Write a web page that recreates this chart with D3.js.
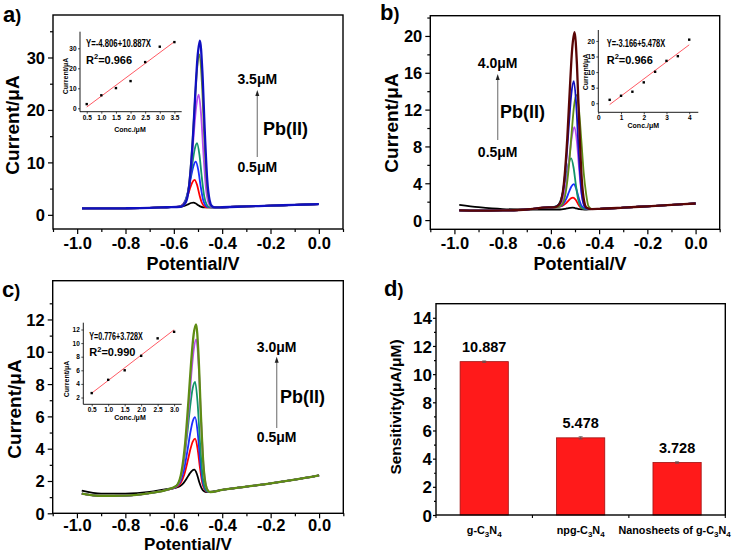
<!DOCTYPE html>
<html><head><meta charset="utf-8">
<script src="https://cdn.jsdelivr.net/npm/d3@7"></script>
<style>
body{margin:0;background:#fff;}
svg{display:block;}
text{font-family:"Liberation Sans",Arial,sans-serif;}
</style></head><body>
<svg id="chart" width="734" height="553"></svg>
<script>
// ---------------- DATA ----------------
const potentialTicks = [-1.0, -0.8, -0.6, -0.4, -0.2, 0.0];
const potentialTickLabels = ["-1.0", "-0.8", "-0.6", "-0.4", "-0.2", "0.0"];
const potentialMinor = [-1.1, -0.9, -0.7, -0.5, -0.3, -0.1, 0.1];
// potential offsets (V) of the sampled points around each stripping peak
const peakOffsets = [-0.08, -0.06, -0.045, -0.03, -0.02, -0.01, 0, 0.01, 0.02, 0.03, 0.04, 0.05];

// Panel a (0.5 ... 3.5 uM)
const aColors = ["#000000", "#ff0000", "#1a2cff", "#12946b", "#b84cf0", "#6b8e23", "#1010c0"];
const aCenters = [-0.519, -0.514, -0.509, -0.504, -0.497, -0.494, -0.492];
const aPeakVals = [
  [1.50, 1.52, 1.60, 1.83, 2.05, 2.26, 2.34, 2.17, 1.83, 1.56, 1.44, 1.41],
  [1.51, 1.62, 2.14, 3.54, 4.91, 6.15, 6.67, 5.72, 3.82, 2.30, 1.63, 1.44],
  [1.51, 1.71, 2.56, 4.92, 7.21, 9.29, 10.15, 8.58, 5.43, 2.89, 1.79, 1.47],
  [1.52, 1.79, 2.99, 6.30, 9.52, 12.44, 13.65, 11.45, 7.04, 3.48, 1.94, 1.49],
  [1.53, 2.01, 4.13, 9.95, 15.62, 20.76, 22.9, 18.95, 11.24, 5.04, 2.34, 1.56],
  [1.54, 2.20, 5.08, 12.99, 20.71, 27.69, 30.6, 25.26, 14.79, 6.35, 2.68, 1.62],
  [1.54, 2.26, 5.40, 14.02, 22.42, 30.03, 33.2, 27.39, 15.98, 6.79, 2.79, 1.64]
];
const aBaseLeft = [[-0.98, 1.25], [-0.9, 1.22], [-0.8, 1.25], [-0.7, 1.33], [-0.63, 1.45]];
const aBaseRight = [[-0.43, 1.42], [-0.4, 1.45], [-0.3, 1.6], [-0.2, 1.75], [-0.1, 1.9], [0, 2.05]];
const aYTicks = [0, 10, 20, 30];
const aYMinor = [5, 15, 25, 35];
const aInsetConc = [0.5, 1.0, 1.5, 2.0, 2.5, 3.0, 3.5];
const aInsetCurrent = [2.1, 6.5, 10.1, 13.6, 23.1, 30.8, 33.1];
const aFit = [-4.806, 10.887];
const aEquation = "Y=-4.806+10.887X";
const aR2 = "=0.966";
const aInsetXTicks = [0.5, 1.0, 1.5, 2.0, 2.5, 3.0, 3.5];
const aInsetXLabels = ["0.5", "1.0", "1.5", "2.0", "2.5", "3.0", "3.5"];
const aInsetYTicks = [0, 10, 20, 30];
const aConcLabels = ["3.5\u03bcM", "0.5\u03bcM"];

// Panel b (0.5 ... 4.0 uM)
const bColors = ["#000000", "#ff0000", "#1a2cff", "#12946b", "#b84cf0", "#5f8c14", "#1010c0", "#5a0606"];
const bCenters = [-0.51, -0.508, -0.505, -0.516, -0.502, -0.494, -0.505, -0.502];
const bPeakVals = [
  [1.15, 1.15, 1.17, 1.23, 1.28, 1.33, 1.35, 1.31, 1.24, 1.18, 1.16, 1.15],
  [1.40, 1.43, 1.53, 1.81, 2.09, 2.35, 2.45, 2.23, 1.78, 1.41, 1.26, 1.21],
  [1.40, 1.46, 1.71, 2.39, 3.05, 3.65, 3.9, 3.41, 2.44, 1.66, 1.32, 1.22],
  [1.41, 1.53, 2.05, 3.49, 4.90, 6.17, 6.7, 5.71, 3.73, 2.14, 1.44, 1.24],
  [1.41, 1.61, 2.47, 4.84, 7.14, 9.23, 10.1, 8.50, 5.29, 2.71, 1.59, 1.27],
  [1.42, 1.69, 2.90, 6.22, 9.45, 12.38, 13.6, 12.11, 8.76, 5.17, 2.87, 1.5],
  [1.42, 1.73, 3.09, 6.81, 10.44, 13.73, 15.1, 12.6, 7.59, 3.56, 1.81, 1.31],
  [1.42, 1.86, 3.74, 8.91, 13.94, 18.5, 20.4, 16.94, 10.03, 4.46, 2.04, 1.35]
];
const bBaseLeft = [[-0.98, 1.05], [-0.9, 1.02], [-0.8, 1.05], [-0.7, 1.15], [-0.63, 1.35]];
const bBaseLeftBlack = [[-0.98, 1.65], [-0.9, 1.4], [-0.8, 1.2], [-0.7, 1.15], [-0.63, 1.15]];
const bBaseRight = [[-0.43, 1.2], [-0.4, 1.22], [-0.3, 1.35], [-0.2, 1.5], [-0.1, 1.65], [0, 1.8]];
const bYTicks = [0, 4, 8, 12, 16, 20];
const bYMinor = [2, 6, 10, 14, 18, 22];
const bInsetConc = [0.5, 1.0, 1.5, 2.0, 2.5, 3.0, 3.5, 4.0];
const bInsetCurrent = [1.1, 2.4, 3.7, 6.7, 10.1, 13.6, 15.1, 20.4];
const bFit = [-3.166, 5.478];
const bEquation = "Y=-3.166+5.478X";
const bR2 = "=0.966";
const bInsetXTicks = [0, 1, 2, 3, 4];
const bInsetXLabels = ["0", "1", "2", "3", "4"];
const bInsetYTicks = [0, 5, 10, 15, 20];
const bConcLabels = ["4.0\u03bcM", "0.5\u03bcM"];

// Panel c (0.5 ... 3.0 uM)
const cColors = ["#000000", "#ff0000", "#1a2cff", "#12946b", "#b84cf0", "#5f8c14"];
const cCenters = [-0.515, -0.512, -0.512, -0.512, -0.507, -0.508];
const cPeakVals = [
  [1.57, 1.67, 1.87, 2.20, 2.44, 2.63, 2.7, 2.45, 1.94, 1.54, 1.36, 1.31],
  [1.60, 1.86, 2.39, 3.28, 3.93, 4.43, 4.62, 4.02, 2.83, 1.86, 1.45, 1.33],
  [1.62, 1.99, 2.76, 4.03, 4.97, 5.69, 5.96, 5.12, 3.44, 2.09, 1.51, 1.34],
  [1.66, 2.21, 3.36, 5.26, 6.66, 7.73, 8.14, 6.91, 4.45, 2.46, 1.60, 1.35],
  [1.71, 2.47, 4.09, 6.74, 8.70, 10.20, 10.77, 9.07, 5.66, 2.91, 1.72, 1.37],
  [1.72, 2.57, 4.34, 7.26, 9.42, 11.07, 11.7, 9.83, 6.08, 3.07, 1.76, 1.38]
];
const cBaseLeft = [[-0.98, 1.22], [-0.9, 1.08], [-0.8, 1.1], [-0.7, 1.25], [-0.63, 1.45]];
const cBaseLeftBlack = [[-0.98, 1.4], [-0.9, 1.22], [-0.8, 1.22], [-0.7, 1.32], [-0.63, 1.5]];
const cBaseRight = [[-0.45, 1.32], [-0.4, 1.45], [-0.3, 1.65], [-0.2, 1.85], [-0.1, 2.08], [0, 2.35]];
const cYTicks = [0, 2, 4, 6, 8, 10, 12];
const cYMinor = [1, 3, 5, 7, 9, 11, 13];
const cInsetConc = [0.5, 1.0, 1.5, 2.0, 2.5, 3.0];
const cInsetCurrent = [2.65, 4.6, 6.0, 8.13, 10.7, 11.66];
const cFit = [0.776, 3.728];
const cEquation = "Y=0.776+3.728X";
const cR2 = "=0.990";
const cInsetXTicks = [0.5, 1.0, 1.5, 2.0, 2.5, 3.0];
const cInsetXLabels = ["0.5", "1.0", "1.5", "2.0", "2.5", "3.0"];
const cInsetYTicks = [2, 4, 6, 8, 10, 12];
const cConcLabels = ["3.0\u03bcM", "0.5\u03bcM"];

// Panel d
const dCategories = ["g-C3N4", "npg-C3N4", "Nanosheets of g-C3N4"];
const dValues = [10.887, 5.478, 3.728];
const dErrors = [0.05, 0.08, 0.05];
const dValueLabels = ["10.887", "5.478", "3.728"];
const dYTicks = [0, 2, 4, 6, 8, 10, 12, 14];
const dYMinor = [1, 3, 5, 7, 9, 11, 13];

// ---------------- DRAWING ----------------
const svg = d3.select("#chart");
svg.append("rect").attr("width", 734).attr("height", 553).attr("fill", "#fff");

function styleAxis(sel, fs, family) {
  sel.select(".domain").remove();
  sel.selectAll(".tick line").attr("stroke", "#000").attr("stroke-width", 1.2);
  sel.selectAll(".tick text").attr("font-size", fs).attr("font-weight", "bold")
    .attr("fill", "#000").attr("font-family", family || "Liberation Sans, Arial, sans-serif");
}

function panelLabel(x, y, letter) {
  const t = svg.append("text").attr("x", x).attr("y", y).attr("font-size", 22).attr("fill", "#000");
  t.append("tspan").attr("font-weight", "bold").text(letter);
  t.append("tspan").attr("font-size", 18).attr("font-weight", "bold").text(")");
}

function drawCV(cfg) {
  const g = svg.append("g");
  const xs = d3.scaleLinear().domain([-1.1, 0.1]).range([cfg.x0, cfg.x1]);
  const ys = d3.scaleLinear().domain(cfg.yDomain).range([cfg.y1, cfg.y0]);
  const line = d3.line().x(d => xs(d[0])).y(d => ys(d[1])).curve(d3.curveMonotoneX);

  cfg.centers.forEach((c, i) => {
    const left = (cfg.baseLeftBlack && i === 0) ? cfg.baseLeftBlack : cfg.baseLeft;
    const pts = left.concat(peakOffsets.map((o, j) => [c + o, cfg.peakVals[i][j]]), cfg.baseRight);
    g.append("path").attr("d", line(pts)).attr("fill", "none")
      .attr("stroke", cfg.colors[i]).attr("stroke-width", i === cfg.colors.length - 1 ? 2.3 : 1.8)
      .attr("stroke-linejoin", "round");
  });

  // frame
  g.append("rect").attr("x", cfg.x0).attr("y", cfg.y0)
    .attr("width", cfg.x1 - cfg.x0).attr("height", cfg.y1 - cfg.y0)
    .attr("fill", "none").attr("stroke", "#000").attr("stroke-width", 1.4);

  // axes
  const bx = g.append("g").attr("transform", `translate(0,${cfg.y1})`)
    .call(d3.axisBottom(xs).tickValues(potentialTicks).tickSize(5).tickPadding(cfg.xPad)
      .tickFormat((d, i) => potentialTickLabels[i]));
  styleAxis(bx, 16.5);
  const bxm = g.append("g").attr("transform", `translate(0,${cfg.y1})`)
    .call(d3.axisBottom(xs).tickValues(potentialMinor).tickSize(3).tickFormat(""));
  styleAxis(bxm, 1);
  const ly = g.append("g").attr("transform", `translate(${cfg.x0},0)`)
    .call(d3.axisLeft(ys).tickValues(cfg.yTicks).tickSize(5).tickPadding(3).tickFormat(d3.format("d")));
  styleAxis(ly, 16.5);
  ly.selectAll(".tick text").attr("dy", "0.36em");
  const lym = g.append("g").attr("transform", `translate(${cfg.x0},0)`)
    .call(d3.axisLeft(ys).tickValues(cfg.yMinor.filter(v => v >= cfg.yDomain[0] && v <= cfg.yDomain[1])).tickSize(3).tickFormat(""));
  styleAxis(lym, 1);

  // titles
  g.append("text").attr("x", cfg.xTitle[0]).attr("y", cfg.xTitle[1]).attr("text-anchor", "middle")
    .attr("font-size", cfg.xTitleSize || 18).attr("font-weight", "bold").text("Potential/V");
  g.append("text").attr("transform", `translate(${cfg.yTitle[0]},${cfg.yTitle[1]}) rotate(-90)`)
    .attr("text-anchor", "middle").attr("dy", "0.35em")
    .attr("font-size", 19).attr("font-weight", "bold").text("Current/\u03bcA");

  // annotation: concentration arrow
  const an = cfg.anno;
  g.append("line").attr("x1", an.ax).attr("x2", an.ax).attr("y1", an.ay1).attr("y2", an.ay0 + 5)
    .attr("stroke", "#8a8a8a").attr("stroke-width", 1.3);
  g.append("path").attr("d", `M${an.ax},${an.ay0} L${an.ax - 2},${an.ay0 + 6} L${an.ax + 2},${an.ay0 + 6} Z`)
    .attr("fill", "#222");
  g.append("text").attr("x", an.ax).attr("y", an.topY).attr("text-anchor", "middle")
    .attr("font-size", 14).attr("font-weight", "bold").text(cfg.concLabels[0]);
  g.append("text").attr("x", an.ax).attr("y", an.botY).attr("text-anchor", "middle")
    .attr("font-size", 14).attr("font-weight", "bold").text(cfg.concLabels[1]);
  g.append("text").attr("x", an.pbX).attr("y", an.pbY)
    .attr("font-size", 18).attr("font-weight", "bold").text("Pb(II)");

  drawInset(cfg.inset);
}

function drawInset(ic) {
  const g = svg.append("g");
  const xs = d3.scaleLinear().domain(ic.xDomain).range([ic.x0, ic.x1]);
  const ys = d3.scaleLinear().domain(ic.yDomain).range([ic.y1, ic.y0]);
  g.append("path").attr("d", `M${ic.x0},${ic.y0} V${ic.y1} H${ic.x1}`)
    .attr("fill", "none").attr("stroke", "#000").attr("stroke-width", 0.9);
  const fam = ic.serif ? "Liberation Serif, Times New Roman, serif" : "Liberation Sans, Arial, sans-serif";
  const la = g.append("g").attr("transform", `translate(${ic.x0},0)`)
    .call(d3.axisLeft(ys).tickValues(ic.yTicks).tickSize(2).tickPadding(1.5).tickFormat(d3.format("d")));
  styleAxis(la, 6.5, fam);
  la.selectAll(".tick line").attr("stroke-width", 0.7);
  const ba = g.append("g").attr("transform", `translate(0,${ic.y1})`)
    .call(d3.axisBottom(xs).tickValues(ic.xTicks).tickSize(2).tickPadding(1.5)
      .tickFormat((d, i) => ic.xLabels[i]));
  styleAxis(ba, 6.5, fam);
  ba.selectAll(".tick line").attr("stroke-width", 0.7);

  // fit line
  const c0 = ic.conc[0], c1 = ic.conc[ic.conc.length - 1];
  g.append("line").attr("x1", xs(c0)).attr("y1", ys(ic.fit[0] + ic.fit[1] * c0))
    .attr("x2", xs(c1)).attr("y2", ys(ic.fit[0] + ic.fit[1] * c1))
    .attr("stroke", "#ff5a64").attr("stroke-width", 1);
  g.selectAll("rect.pt").data(ic.conc).join("rect").attr("class", "pt")
    .attr("x", d => xs(d) - 1.2).attr("y", (d, i) => ys(ic.current[i]) - 1.2)
    .attr("width", 2.4).attr("height", 2.4).attr("fill", "#000");

  // equation text
  g.append("text").attr("x", ic.eqX).attr("y", ic.eqY)
    .attr("font-family", "Liberation Serif, Times New Roman, serif").attr("font-weight", "bold")
    .attr("font-size", 11).attr("textLength", ic.eqW).attr("lengthAdjust", "spacingAndGlyphs")
    .text(ic.equation);
  const r = g.append("text").attr("x", ic.eqX).attr("y", ic.eqY + 16.5)
    .attr("font-family", "Liberation Serif, Times New Roman, serif").attr("font-weight", "bold")
    .attr("font-size", 11);
  r.append("tspan").text("R");
  r.append("tspan").attr("font-size", 7.5).attr("dy", -4.5).text("2");
  r.append("tspan").attr("dy", 4.5).text(ic.r2);

  g.append("text").attr("x", ic.cx).attr("y", ic.cy).attr("text-anchor", "middle")
    .attr("font-family", fam).attr("font-weight", "bold").attr("font-size", 7).text("Conc./\u03bcM");
  g.append("text").attr("transform", `translate(${ic.yx},${ic.yy}) rotate(-90)`)
    .attr("text-anchor", "middle").attr("font-family", fam).attr("font-weight", "bold")
    .attr("font-size", 7).text("Current/\u03bcA");
}

// ---- panel a ----
drawCV({
  x0: 53, x1: 343, y0: 15, y1: 229, yDomain: [-2.7, 38.1], yTicks: aYTicks, yMinor: aYMinor, xPad: 3.5,
  colors: aColors, centers: aCenters, peakVals: aPeakVals, baseLeft: aBaseLeft, baseRight: aBaseRight,
  xTitle: [193, 269.5], yTitle: [12, 125], concLabels: aConcLabels,
  anno: { ax: 257.3, ay0: 90, ay1: 157, topY: 84, botY: 171.5, pbX: 263, pbY: 134.5 },
  inset: {
    x0: 80, x1: 181.7, y0: 31.7, y1: 111.7, xDomain: [0.27, 3.75], yDomain: [-1.7, 38.3],
    xTicks: aInsetXTicks, xLabels: aInsetXLabels, yTicks: aInsetYTicks,
    conc: aInsetConc, current: aInsetCurrent, fit: aFit, equation: aEquation, r2: aR2,
    eqX: 86, eqY: 47, eqW: 65, cx: 130, cy: 132, yx: 68, yy: 76
  }
});
panelLabel(3, 22, "a");

// ---- panel b ----
drawCV({
  x0: 430.3, x1: 719.7, y0: 15.7, y1: 229.3, yDomain: [-1, 22.2], yTicks: bYTicks, yMinor: bYMinor, xPad: 2.5,
  colors: bColors, centers: bCenters, peakVals: bPeakVals, baseLeft: bBaseLeft, baseLeftBlack: bBaseLeftBlack,
  baseRight: bBaseRight,
  xTitle: [580, 269.5], yTitle: [391, 123], concLabels: bConcLabels,
  anno: { ax: 497.7, ay0: 74, ay1: 140, topY: 68, botY: 156.5, pbX: 500, pbY: 117.5 },
  inset: {
    x0: 598.3, x1: 698.3, y0: 30, y1: 112.3, xDomain: [0, 4.4], yDomain: [-2.9, 23.5],
    xTicks: bInsetXTicks, xLabels: bInsetXLabels, yTicks: bInsetYTicks,
    conc: bInsetConc, current: bInsetCurrent, fit: bFit, equation: bEquation, r2: bR2,
    eqX: 606.7, eqY: 47, eqW: 58.5, cx: 643.3, cy: 127.5, yx: 588, yy: 72
  }
});
panelLabel(380, 20, "b");

// ---- panel c ----
drawCV({
  x0: 52.7, x1: 343.3, y0: 280.7, y1: 513.3, yDomain: [0, 14.4], yTicks: cYTicks, yMinor: cYMinor, xPad: 1.2,
  colors: cColors, centers: cCenters, peakVals: cPeakVals, baseLeft: cBaseLeft, baseLeftBlack: cBaseLeftBlack,
  baseRight: cBaseRight,
  xTitle: [188, 550], xTitleSize: 17, yTitle: [14, 409], concLabels: cConcLabels,
  anno: { ax: 276.7, ay0: 356.7, ay1: 428, topY: 351.5, botY: 441.5, pbX: 280, pbY: 402.5 },
  inset: {
    x0: 83.3, x1: 181.7, y0: 322.7, y1: 404.3, xDomain: [0.245, 3.23], yDomain: [1, 13],
    xTicks: cInsetXTicks, xLabels: cInsetXLabels, yTicks: cInsetYTicks, serif: true,
    conc: cInsetConc, current: cInsetCurrent, fit: cFit, equation: cEquation, r2: cR2,
    eqX: 89.3, eqY: 339.5, eqW: 53.5, cx: 130, cy: 420, yx: 69, yy: 379
  }
});
panelLabel(2, 297, "c");

// ---- panel d ----
(function () {
  const x0 = 436, x1 = 725.3, y0 = 303.7, y1 = 515;
  const g = svg.append("g");
  const xs = d3.scaleBand().domain(dCategories).range([x0, x1]).paddingInner(0.5).paddingOuter(0.25);
  const ys = d3.scaleLinear().domain([0, 15]).range([y1, y0]);
  g.selectAll("rect.bar").data(dValues).join("rect").attr("class", "bar")
    .attr("x", (d, i) => xs(dCategories[i])).attr("y", d => ys(d))
    .attr("width", xs.bandwidth()).attr("height", d => y1 - ys(d))
    .attr("fill", "#ff1a1a").attr("stroke", "#a01010").attr("stroke-width", 0.8);
  // error bars
  dValues.forEach((v, i) => {
    const cx = xs(dCategories[i]) + xs.bandwidth() / 2;
    g.append("path").attr("d",
      `M${cx - 2},${ys(v + dErrors[i])} H${cx + 2} M${cx},${ys(v + dErrors[i])} V${ys(v - dErrors[i])} M${cx - 2},${ys(v - dErrors[i])} H${cx + 2}`)
      .attr("stroke", "#555").attr("stroke-width", 0.8).attr("fill", "none");
    g.append("text").attr("x", cx).attr("y", ys(v) - 9.5).attr("text-anchor", "middle")
      .attr("font-size", 14.5).attr("font-weight", "bold").text(dValueLabels[i]);
  });
  g.append("rect").attr("x", x0).attr("y", y0).attr("width", x1 - x0).attr("height", y1 - y0)
    .attr("fill", "none").attr("stroke", "#000").attr("stroke-width", 1.4);
  const ly = g.append("g").attr("transform", `translate(${x0},0)`)
    .call(d3.axisLeft(ys).tickValues(dYTicks).tickSize(3).tickPadding(1).tickFormat(d3.format("d")));
  styleAxis(ly, 17);
  ly.selectAll(".tick text").attr("dy", "0.36em");
  const lym = g.append("g").attr("transform", `translate(${x0},0)`)
    .call(d3.axisLeft(ys).tickValues(dYMinor).tickSize(2).tickFormat(""));
  styleAxis(lym, 1);
  // bottom ticks between categories
  const bticks = [];
  const step = xs.step();
  dCategories.forEach((c, i) => {
    const cx = xs(c) + xs.bandwidth() / 2;
    bticks.push(cx - step / 2);
    if (i === dCategories.length - 1) bticks.push(cx + step / 2);
  });
  g.selectAll("line.bt").data(bticks).join("line").attr("class", "bt")
    .attr("x1", d => d).attr("x2", d => d).attr("y1", y1).attr("y2", y1 + 3)
    .attr("stroke", "#000").attr("stroke-width", 1.1);
  // category labels with subscripts
  dCategories.forEach((c, i) => {
    const cx = xs(c) + xs.bandwidth() / 2 - (i === 2 ? 2.5 : 0);
    const t = g.append("text").attr("x", cx).attr("y", 533.5).attr("text-anchor", "middle")
      .attr("font-size", 10.8).attr("font-weight", "bold");
    let sub = false;
    for (let k = 0; k < c.length; k++) {
      const ch = c[k];
      const isSub = /[0-9]/.test(ch) && /[CN]/.test(c[k - 1] || "");
      const ts = t.append("tspan").text(ch);
      if (isSub && !sub) { ts.attr("dy", 3).attr("font-size", 8); sub = true; }
      else if (isSub) { ts.attr("font-size", 8); }
      else if (!isSub && sub) { ts.attr("dy", -3); sub = false; }
    }
  });
  g.append("text").attr("transform", `translate(396,407) rotate(-90)`)
    .attr("text-anchor", "middle").attr("dy", "0.35em")
    .attr("font-size", 15.5).attr("font-weight", "bold").text("Sensitivity(\u03bcA/\u03bcM)");
})();
panelLabel(384, 296, "d");
</script></body></html>
